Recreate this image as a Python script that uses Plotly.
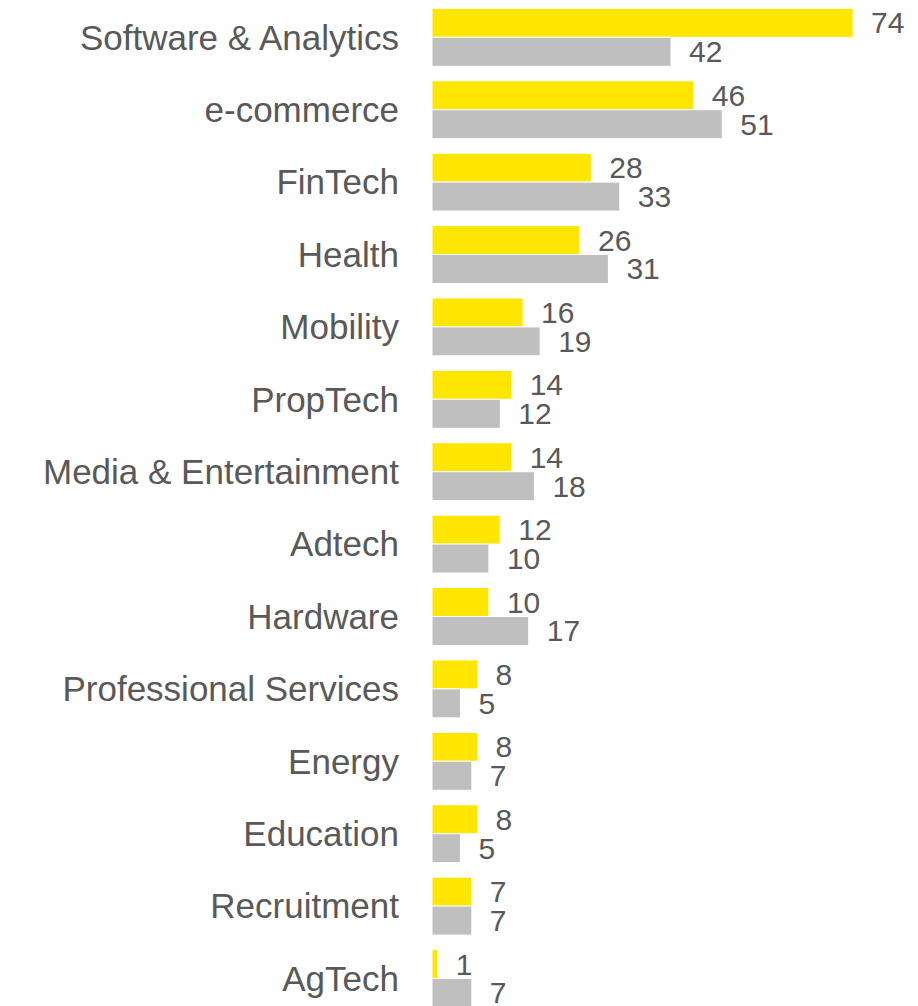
import plotly.graph_objects as go

categories = ["Software & Analytics", "e-commerce", "FinTech", "Health", "Mobility",
              "PropTech", "Media & Entertainment", "Adtech", "Hardware",
              "Professional Services", "Energy", "Education", "Recruitment", "AgTech"]
series_a = [74, 46, 28, 26, 16, 14, 14, 12, 10, 8, 8, 8, 7, 1]
series_b = [42, 51, 33, 31, 19, 12, 18, 10, 17, 5, 7, 5, 7, 7]

TEXT = "#595959"
FONT = "Liberation Sans, Arial, sans-serif"

fig = go.Figure()
for vals, color in [(series_a, "#FFE600"), (series_b, "#BFBFBF")]:
    fig.add_trace(go.Bar(
        y=categories, x=vals, orientation="h",
        marker=dict(color=color, line=dict(color="white", width=1)),
        text=vals, texttemplate="\u2002%{x}", textposition="outside",
        textfont=dict(size=30, color=TEXT, family=FONT),
        constraintext="none", cliponaxis=False, showlegend=False,
    ))

fig.update_layout(
    width=910, height=998,
    margin=dict(l=424, r=0, t=0, b=0),
    paper_bgcolor="white", plot_bgcolor="white",
    barmode="group", bargap=0.2, bargroupgap=0,
    xaxis=dict(visible=False, range=[0, 85.4]),
    yaxis=dict(type="category", categoryorder="array", categoryarray=categories,
               range=[13.38, -0.405], showgrid=False, showline=False, zeroline=False,
               ticks="", ticklabelstandoff=32, automargin=False,
               tickfont=dict(size=35, color=TEXT, family=FONT)),
)

fig.write_html("out.html")
